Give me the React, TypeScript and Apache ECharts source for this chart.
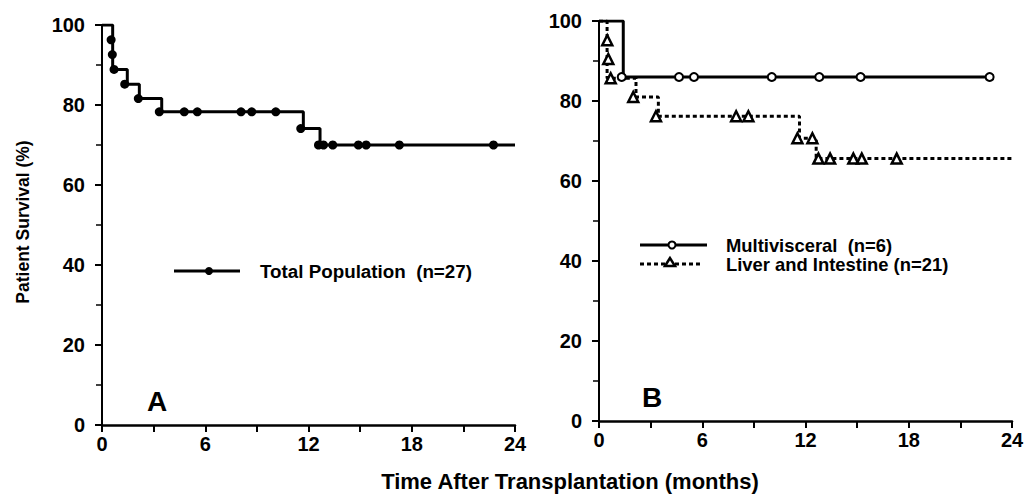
import React, { useEffect, useRef } from "react";
import * as echarts from "echarts";

// ---- tick values ----
const xTickValues = [0, 6, 12, 18, 24];
const yTickValues = [0, 20, 40, 60, 80, 100];

// ---- Panel A: Total population (n=27) ----
const aStepTimes = [0, 0.62, 1.47, 2.17, 3.47, 11.7, 12.67, 24];
const aStepSurvival = [100, 88.9, 85.2, 81.6, 78.3, 74.1, 70.0, 70.0];
const aMarkTimes = [0.53, 0.6, 0.7, 1.32, 2.11, 3.33, 4.78, 5.54, 8.08, 8.7, 10.1, 11.55, 12.58, 12.87, 13.41, 14.9, 15.35, 17.28, 22.75];
const aMarkSurvival = [96.3, 92.6, 88.9, 85.2, 81.6, 78.3, 78.3, 78.3, 78.3, 78.3, 78.3, 74.1, 70, 70, 70, 70, 70, 70, 70];

// ---- Panel B: Multivisceral (n=6) ----
const mvStepTimes = [0, 1.41, 22.75];
const mvStepSurvival = [100, 86, 86];
const mvMarkTimes = [1.32, 4.65, 5.52, 10.04, 12.8, 15.2, 22.7];
const mvMarkSurvival = [86, 86, 86, 86, 86, 86, 86];

// ---- Panel B: Liver and Intestine (n=21) ----
const liStepTimes = [0, 0.47, 2.15, 3.45, 11.65, 12.62, 24];
const liStepSurvival = [100, 85.7, 81.0, 76.2, 70.7, 65.6, 65.6];
const liMarkTimes = [0.48, 0.54, 0.68, 1.99, 3.31, 7.97, 8.68, 11.53, 12.4, 12.75, 13.43, 14.78, 15.27, 17.3];
const liMarkSurvival = [95.2, 90.5, 85.7, 81.0, 76.2, 76.2, 76.2, 70.7, 70.7, 65.6, 65.6, 65.6, 65.6, 65.6];

const legendA = "Total Population  (n=27)";
const legendMV = "Multivisceral  (n=6)";
const legendLI = "Liver and Intestine (n=21)";
const xTitle = "Time After Transplantation (months)";
const yTitle = "Patient Survival (%)";

const FONT = "'Liberation Sans', Arial, Helvetica, sans-serif";
const pairs = (xs: number[], ys: number[]) => xs.map((x, i) => [x, ys[i]]);

function xAxisDef(gridIndex: number) {
  return {
    type: "value",
    gridIndex,
    min: xTickValues[0],
    max: xTickValues[xTickValues.length - 1],
    interval: xTickValues[1] - xTickValues[0],
    axisLine: { show: true, lineStyle: { color: "#000", width: 2.5 } },
    axisTick: { show: true, length: 7, lineStyle: { color: "#000", width: 2 } },
    minorTick: { show: true, splitNumber: 2, length: 7, lineStyle: { color: "#000", width: 2 } },
    splitLine: { show: false },
    axisLabel: { color: "#000", fontSize: 20, fontWeight: "bold", fontFamily: FONT, margin: 9 },
  };
}
function yAxisDef(gridIndex: number) {
  return {
    type: "value",
    gridIndex,
    min: yTickValues[0],
    max: yTickValues[yTickValues.length - 1],
    interval: yTickValues[1] - yTickValues[0],
    axisLine: { show: true, lineStyle: { color: "#000", width: 2 } },
    axisTick: { show: true, length: 7, lineStyle: { color: "#000", width: 2 } },
    minorTick: { show: true, splitNumber: 2, length: 6, lineStyle: { color: "#000", width: 1.5 } },
    splitLine: { show: false },
    axisLabel: { color: "#000", fontSize: 20, fontWeight: "bold", fontFamily: FONT, margin: 17 },
  };
}

export default function App() {
  const ref = useRef<HTMLDivElement>(null);
  useEffect(() => {
    if (!ref.current) return;
    const chart = echarts.init(ref.current, null, { renderer: "svg" });
    const option: any = {
      animation: false,
      backgroundColor: "#fff",
      textStyle: { fontFamily: FONT },
      grid: [
        { left: 102, top: 25, width: 413, height: 400 },
        { left: 599, top: 21, width: 413, height: 400 },
      ],
      xAxis: [xAxisDef(0), xAxisDef(1)],
      yAxis: [yAxisDef(0), yAxisDef(1)],
      series: [
        {
          name: "Total Population",
          type: "line",
          xAxisIndex: 0,
          yAxisIndex: 0,
          step: "end",
          showSymbol: false,
          data: pairs(aStepTimes, aStepSurvival),
          lineStyle: { color: "#000", width: 3 },
          z: 2,
        },
        {
          type: "scatter",
          xAxisIndex: 0,
          yAxisIndex: 0,
          symbol: "circle",
          symbolSize: 9,
          data: pairs(aMarkTimes, aMarkSurvival),
          itemStyle: { color: "#000", opacity: 1 },
          z: 3,
        },
        {
          name: "Multivisceral",
          type: "line",
          xAxisIndex: 1,
          yAxisIndex: 1,
          step: "end",
          showSymbol: false,
          data: pairs(mvStepTimes, mvStepSurvival),
          lineStyle: { color: "#000", width: 3 },
          z: 2,
        },
        {
          name: "Liver and Intestine",
          type: "line",
          xAxisIndex: 1,
          yAxisIndex: 1,
          step: "end",
          showSymbol: false,
          data: pairs(liStepTimes, liStepSurvival),
          lineStyle: { color: "#000", width: 3, type: [4, 3] },
          z: 2,
        },
        {
          type: "scatter",
          xAxisIndex: 1,
          yAxisIndex: 1,
          symbol: "circle",
          symbolSize: 8,
          data: pairs(mvMarkTimes, mvMarkSurvival),
          itemStyle: { color: "#fff", borderColor: "#000", borderWidth: 2, opacity: 1 },
          z: 4,
        },
        {
          type: "scatter",
          xAxisIndex: 1,
          yAxisIndex: 1,
          symbol: "triangle",
          symbolSize: 10,
          data: pairs(liMarkTimes, liMarkSurvival),
          itemStyle: { color: "#fff", borderColor: "#000", borderWidth: 2.5, opacity: 1 },
          z: 4,
        },
      ],
      graphic: [
        // y title
        {
          type: "text",
          x: 23,
          y: 222,
          rotation: Math.PI / 2,
          style: { text: yTitle, fill: "#000", font: `bold 17.5px ${FONT}`, align: "center", verticalAlign: "middle" },
        },
        // x title
        {
          type: "text",
          x: 570,
          y: 481,
          style: { text: xTitle, fill: "#000", font: `bold 22px ${FONT}`, align: "center", verticalAlign: "middle" },
        },
        // panel letters
        { type: "text", x: 157, y: 401, style: { text: "A", fill: "#000", font: `bold 28px ${FONT}`, align: "center", verticalAlign: "middle" } },
        { type: "text", x: 652, y: 397, style: { text: "B", fill: "#000", font: `bold 28px ${FONT}`, align: "center", verticalAlign: "middle" } },
        // legend A
        { type: "line", shape: { x1: 174, y1: 271, x2: 240, y2: 271 }, style: { stroke: "#000", lineWidth: 3 } },
        { type: "circle", shape: { cx: 209, cy: 271, r: 4 }, style: { fill: "#000" } },
        { type: "text", x: 260, y: 271, style: { text: legendA, fill: "#000", font: `bold 18.8px ${FONT}`, align: "left", verticalAlign: "middle" } },
        // legend B - multivisceral
        { type: "line", shape: { x1: 640, y1: 245, x2: 707, y2: 245 }, style: { stroke: "#000", lineWidth: 3 } },
        { type: "circle", shape: { cx: 672, cy: 245, r: 3.5 }, style: { fill: "#fff", stroke: "#000", lineWidth: 2 }, z: 10 },
        { type: "text", x: 726, y: 245, style: { text: legendMV, fill: "#000", font: `bold 18.4px ${FONT}`, align: "left", verticalAlign: "middle" } },
        // legend B - liver and intestine
        { type: "line", shape: { x1: 640, y1: 264, x2: 701, y2: 264 }, style: { stroke: "#000", lineWidth: 3, lineDash: [4, 3] } },
        {
          type: "polygon",
          shape: { points: [[670, 258], [665, 266], [675, 266]] },
          style: { fill: "#fff", stroke: "#000", lineWidth: 2.5 },
          z: 10,
        },
        { type: "text", x: 726, y: 264, style: { text: legendLI, fill: "#000", font: `bold 18.4px ${FONT}`, align: "left", verticalAlign: "middle" } },
      ],
    };
    chart.setOption(option);
    return () => chart.dispose();
  }, []);
  return (
    <div
      ref={ref}
      style={{ position: "fixed", left: 0, top: 0, width: 1033, height: 504, background: "#fff" }}
    />
  );
}
